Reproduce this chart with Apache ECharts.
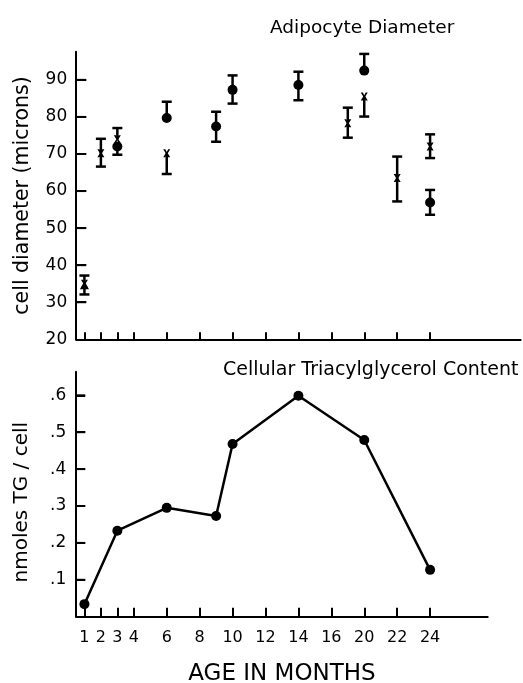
<!DOCTYPE html>
<html>
<head>
<meta charset="utf-8">
<script src="https://cdn.jsdelivr.net/npm/echarts@6/dist/echarts.min.js"></script>
<style>
html,body{margin:0;padding:0;background:#fff;}
#c{width:523px;height:683px;}
</style>
</head>
<body>
<div id="c"></div>
<script>
// Axis slots (months) - the original axis is drawn with unequal spacing
const months = ['1','2','3','4','5','6','7','8','9','10','11','12','13','14','15','16','18','20','21','22','23','24'];
const tickMonths = ['1','2','3','4','6','8','10','12','14','16','20','22','24'];
const padTop = ['25','26','27','28','29'];
const padBottom = ['25','26','27'];

// y tick values (labels come from the axes)
const diamTicks = [30, 40, 50, 60, 70, 80, 90];
const tgTicks = [0.1, 0.2, 0.3, 0.4, 0.5, 0.6];

// Adipocyte diameter (microns): filled circles
const dotMonths = ['3','6','9','10','14','20','24'];
const dotMean   = [72.0, 79.7, 77.4, 87.3, 88.6, 92.5, 56.9];
const dotLow    = [69.8, 79.7, 73.3, 83.6, 84.5, 92.5, 53.6];
const dotHigh   = [72.0, 84.1, 81.4, 91.2, 92.2, 97.0, 60.3];

// Adipocyte diameter: x markers
const crossMonths = ['1','2','3','6','18','20','22','24'];
const crossMean   = [35.0, 70.2, 74.0, 70.2, 78.3, 85.5, 63.5, 72.0];
const crossLow    = [35.0, 66.6, 74.0, 64.6, 74.4, 80.1, 57.2, 68.9];
const crossHigh   = [35.0, 74.1, 77.0, 70.2, 82.5, 85.5, 69.3, 75.3];

// Adipocyte diameter: triangle (1 month)
const triMonths = ['1'];
const triMean   = [34.6];
const triLow    = [32.1];
const triHigh   = [37.2];

// Cellular triacylglycerol content (nmoles TG/cell)
const tgMonths = ['1','3','6','9','10','14','20','24'];
const tgValues = [0.034, 0.233, 0.295, 0.273, 0.468, 0.599, 0.479, 0.127];

const FONT = 'DejaVu Sans';
const slotW = 16.46;

function pts(ms, vs){ return ms.map((m,i)=>[m, vs[i]]); }
function bars(ms, mean, lo, hi){ return ms.map((m,i)=>[m, mean[i], lo[i], hi[i]]); }

function errRender(params, api){
  const x = api.value(0), m = api.value(1), lo = api.value(2), hi = api.value(3);
  const pLo = api.coord([x, lo]), pHi = api.coord([x, hi]);
  const w = 5, st = {stroke:'#000', lineWidth:2.5};
  const ch = [];
  if (hi > lo) ch.push({type:'line', shape:{x1:pLo[0], y1:pLo[1], x2:pHi[0], y2:pHi[1]}, style:st});
  if (hi > m) ch.push({type:'line', shape:{x1:pHi[0]-w, y1:pHi[1], x2:pHi[0]+w, y2:pHi[1]}, style:st});
  if (lo < m) ch.push({type:'line', shape:{x1:pLo[0]-w, y1:pLo[1], x2:pLo[0]+w, y2:pLo[1]}, style:st});
  return {type:'group', children:ch};
}

// inward tick marks on the value axes (left edge = first slot minus half a band)
function tickRender(len){
  return function(params, api){
    const p = api.coord([api.value(0), api.value(1)]);
    const band = api.size([1, 0])[0];
    const x0 = p[0] - band/2;
    return {type:'line', shape:{x1:x0, y1:p[1], x2:x0+len, y2:p[1]}, style:{stroke:'#000', lineWidth:2}};
  };
}

const tickSet = new Set(tickMonths);
const axisLineStyle = {color:'#000', width:2};
const tickStyle = {color:'#000', width:2};

const topSlots = months.concat(padTop);
const botSlots = months.concat(padBottom);

const chart = echarts.init(document.getElementById('c'));
chart.setOption({
  backgroundColor:'#fff',
  animation:false,
  title:[
    {text:'Adipocyte Diameter', left:265, top:14, textStyle:{fontFamily:FONT, fontSize:18.5, fontWeight:'normal', color:'#000'}},
    {text:'Cellular Triacylglycerol Content', left:218, top:356, textStyle:{fontFamily:FONT, fontSize:19, fontWeight:'normal', color:'#000'}}
  ],
  grid:[
    {left:76.2, top:51.7, width:topSlots.length*slotW, height:287.6, outerBoundsMode:'none', containLabel:false},
    {left:76.2, top:371.7, width:botSlots.length*slotW, height:245, outerBoundsMode:'none', containLabel:false}
  ],
  xAxis:[
    {type:'category', gridIndex:0, data:topSlots, boundaryGap:true,
     axisLine:{show:true, lineStyle:axisLineStyle},
     axisTick:{show:true, inside:true, length:7, alignWithLabel:true, lineStyle:tickStyle, interval:(i,v)=>tickSet.has(v)},
     axisLabel:{show:false}, splitLine:{show:false}},
    {type:'category', gridIndex:1, data:botSlots, boundaryGap:true,
     name:'AGE IN MONTHS', nameLocation:'middle', nameGap:46,
     nameTextStyle:{fontFamily:FONT, fontSize:23, color:'#000'},
     axisLine:{show:true, lineStyle:axisLineStyle},
     axisTick:{show:true, inside:true, length:9, alignWithLabel:true, lineStyle:tickStyle, interval:(i,v)=>tickSet.has(v)},
     axisLabel:{interval:(i,v)=>tickSet.has(v), fontFamily:FONT, fontSize:16, color:'#000', margin:13},
     splitLine:{show:false}}
  ],
  yAxis:[
    {type:'value', gridIndex:0, min:20, max:97.6, interval:10,
     name:'cell diameter (microns)', nameLocation:'middle', nameGap:43,
     nameTextStyle:{fontFamily:FONT, fontSize:20.5, color:'#000'},
     axisLine:{show:true, lineStyle:axisLineStyle},
     axisTick:{show:true, inside:true, length:10, lineStyle:tickStyle},
     axisLabel:{fontFamily:FONT, fontSize:17, color:'#000', margin:9, showMaxLabel:false},
     splitLine:{show:false}},
    {type:'value', gridIndex:1, min:0, max:0.664, interval:0.1,
     name:'nmoles TG / cell', nameLocation:'middle', nameGap:44,
     nameTextStyle:{fontFamily:FONT, fontSize:20, color:'#000', padding:[0,16,0,0]},
     axisLine:{show:true, lineStyle:axisLineStyle},
     axisTick:{show:true, inside:true, length:9, lineStyle:tickStyle},
     axisLabel:{fontFamily:FONT, fontSize:17, color:'#000', margin:10, showMaxLabel:false,
       formatter:v=> (Math.round(v*10)===0 ? '' : '.'+Math.round(v*10))},
     splitLine:{show:false}}
  ],
  series:[
    {type:'custom', xAxisIndex:0, yAxisIndex:0, renderItem:tickRender(10), data:diamTicks.map(v=>[months[0], v]), z:5, silent:true},
    {type:'custom', xAxisIndex:1, yAxisIndex:1, renderItem:tickRender(9), data:tgTicks.map(v=>[months[0], v]), z:5, silent:true},
    {type:'custom', xAxisIndex:0, yAxisIndex:0, renderItem:errRender, data:bars(dotMonths, dotMean, dotLow, dotHigh), z:2},
    {type:'custom', xAxisIndex:0, yAxisIndex:0, renderItem:errRender, data:bars(crossMonths, crossMean, crossLow, crossHigh), z:2},
    {type:'custom', xAxisIndex:0, yAxisIndex:0, renderItem:errRender, data:bars(triMonths, triMean, triLow, triHigh), z:2},
    {type:'scatter', xAxisIndex:0, yAxisIndex:0, data:pts(dotMonths, dotMean), symbol:'circle', symbolSize:10,
     itemStyle:{color:'#000', opacity:1}, z:3},
    {type:'scatter', xAxisIndex:0, yAxisIndex:0, data:pts(crossMonths, crossMean),
     symbol:'path://M0,0 L3,0 L5,3.5 L7,0 L10,0 L6.5,5 L10,10 L7,10 L5,6.5 L3,10 L0,10 L3.5,5 Z', symbolSize:[7,8],
     itemStyle:{color:'#000', opacity:1}, z:3},
    {type:'scatter', xAxisIndex:0, yAxisIndex:0, data:pts(triMonths, triMean), symbol:'triangle', symbolSize:[9,8],
     itemStyle:{color:'#000', opacity:1}, z:3},
    {type:'line', xAxisIndex:1, yAxisIndex:1, data:pts(tgMonths, tgValues), symbol:'circle', symbolSize:10,
     showSymbol:true, lineStyle:{color:'#000', width:2.5}, itemStyle:{color:'#000'}, z:3}
  ]
});
</script>
</body>
</html>
